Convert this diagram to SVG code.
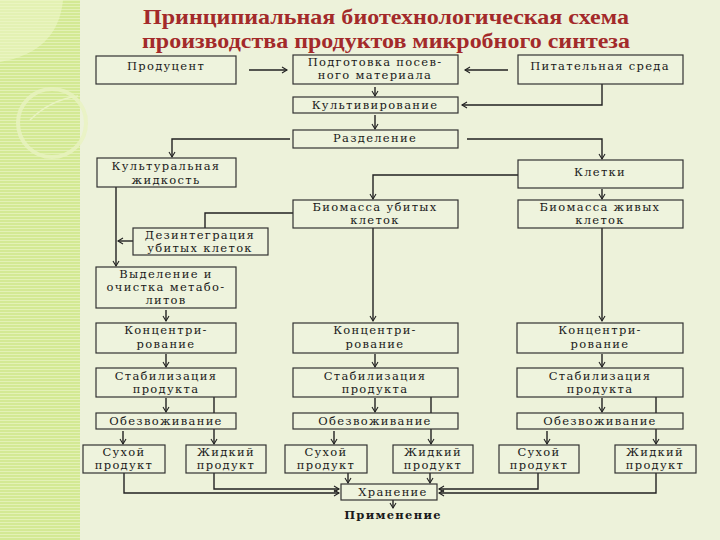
<svg xmlns="http://www.w3.org/2000/svg" width="720" height="540" viewBox="0 0 720 540">
<style>
.b{fill:#eef3dd;stroke:#333;stroke-width:1.2}
.t{font-family:"DejaVu Serif","Liberation Serif",serif;font-size:11.5px;fill:#1a1a1a;text-anchor:middle;letter-spacing:1.3px}
.ttl{font-family:"Liberation Serif","Times New Roman",serif;font-size:21px;font-weight:bold;fill:#a32a2a;text-anchor:middle}
.c path{fill:none;stroke:#222;stroke-width:1.4}
</style>
<defs>
<pattern id="st" width="4" height="3" patternUnits="userSpaceOnUse">
<rect width="4" height="3" fill="#d3e994"/>
<rect width="4" height="1" fill="#e3f1b6"/>
</pattern>
<marker id="a" markerWidth="8" markerHeight="8" refX="6" refY="4" orient="auto" markerUnits="userSpaceOnUse">
<path d="M1,1 L6,4 L1,7" fill="none" stroke="#222" stroke-width="1.1"/>
</marker>
</defs>
<rect width="720" height="540" fill="#edf2da"/>
<rect width="80" height="540" fill="url(#st)"/>
<path d="M0,0 H63 Q58,52 0,62 Z" fill="#eef6c8" opacity="0.6"/>
<circle cx="52" cy="123" r="34" fill="none" stroke="#e8f3c0" stroke-width="4" opacity="0.8"/>
<path d="M30,120 Q50,100 78,96" fill="none" stroke="#e8f3c0" stroke-width="1.5"/>

<text class="ttl" x="386" y="24" textLength="486" lengthAdjust="spacingAndGlyphs">Принципиальная биотехнологическая схема</text>
<text class="ttl" x="386" y="48" textLength="488" lengthAdjust="spacingAndGlyphs">производства продуктов микробного синтеза</text>

<g class="c">
<path d="M249,70 H287" marker-end="url(#a)"/>
<path d="M508,70 H465" marker-end="url(#a)"/>
<path d="M375,87 V96" marker-end="url(#a)"/>
<path d="M602,84 V105 H462" marker-end="url(#a)"/>
<path d="M375,115 V129" marker-end="url(#a)"/>
<path d="M290,139 H172 V157" marker-end="url(#a)"/>
<path d="M467,139 H602 V159" marker-end="url(#a)"/>
<path d="M518,175 H373 V199" marker-end="url(#a)"/>
<path d="M602,189 V199" marker-end="url(#a)"/>
<path d="M116,187 V266" marker-end="url(#a)"/>
<path d="M293,213 H205 V228"/>
<path d="M133,241 H118" marker-end="url(#a)"/>
<path d="M166,310 V321" marker-end="url(#a)"/>
<path d="M373,228 V321" marker-end="url(#a)"/>
<path d="M602,228 V321" marker-end="url(#a)"/>
<path d="M166,354 V367" marker-end="url(#a)"/>
<path d="M375,354 V367" marker-end="url(#a)"/>
<path d="M602,354 V367" marker-end="url(#a)"/>
<path d="M166,398 V412" marker-end="url(#a)"/>
<path d="M375,398 V412" marker-end="url(#a)"/>
<path d="M602,398 V412" marker-end="url(#a)"/>
<path d="M123,431 V444" marker-end="url(#a)"/>
<path d="M334,431 V444" marker-end="url(#a)"/>
<path d="M547,431 V444" marker-end="url(#a)"/>
<path d="M214,397 V444" marker-end="url(#a)"/>
<path d="M431,397 V444" marker-end="url(#a)"/>
<path d="M656,397 V444" marker-end="url(#a)"/>
<path d="M124,473 V493 H339" marker-end="url(#a)"/>
<path d="M214,473 V489 H339" marker-end="url(#a)"/>
<path d="M348,473 V483" marker-end="url(#a)"/>
<path d="M430,473 V483" marker-end="url(#a)"/>
<path d="M538,473 V489 H439" marker-end="url(#a)"/>
<path d="M656,473 V493 H439" marker-end="url(#a)"/>
<path d="M393,500 V508" marker-end="url(#a)"/>
</g>

<g id="producent"><rect class="b" x="96" y="56" width="140" height="28"/><text class="t" x="166" y="70">Продуцент</text></g>
<g id="podgotovka"><rect class="b" x="293" y="55" width="165" height="29"/><text class="t" x="375" y="66">Подготовка посев-</text><text class="t" x="375" y="79">ного материала</text></g>
<g id="sreda"><rect class="b" x="518" y="55" width="165" height="29"/><text class="t" x="600" y="70">Питательная среда</text></g>
<g id="kultivirovanie"><rect class="b" x="293" y="97" width="165" height="16"/><text class="t" x="375" y="109">Культивирование</text></g>
<g id="razdelenie"><rect class="b" x="293" y="130" width="165" height="18"/><text class="t" x="375" y="142">Разделение</text></g>
<g id="kult-zhidkost"><rect class="b" x="97" y="158" width="139" height="29"/><text class="t" x="166" y="170">Культуральная</text><text class="t" x="166" y="184">жидкость</text></g>
<g id="kletki"><rect class="b" x="518" y="160" width="165" height="28"/><text class="t" x="600" y="176">Клетки</text></g>
<g id="biomassa-ubityh"><rect class="b" x="293" y="200" width="165" height="28"/><text class="t" x="375" y="211">Биомасса убитых</text><text class="t" x="375" y="224">клеток</text></g>
<g id="biomassa-zhivyh"><rect class="b" x="518" y="200" width="165" height="28"/><text class="t" x="600" y="211">Биомасса живых</text><text class="t" x="600" y="224">клеток</text></g>
<g id="dezintegraciya"><rect class="b" x="133" y="228" width="135" height="27"/><text class="t" x="200" y="239">Дезинтеграция</text><text class="t" x="200" y="252">убитых клеток</text></g>
<g id="vydelenie"><rect class="b" x="96" y="267" width="140" height="41"/><text class="t" x="166" y="278">Выделение и</text><text class="t" x="166" y="291">очистка метабо-</text><text class="t" x="166" y="304">литов</text></g>

<g id="konc-1"><rect class="b" x="96" y="323" width="140" height="30"/><text class="t" x="166" y="334">Концентри-</text><text class="t" x="166" y="348">рование</text></g>
<g id="konc-2"><rect class="b" x="293" y="323" width="165" height="30"/><text class="t" x="375" y="334">Концентри-</text><text class="t" x="375" y="348">рование</text></g>
<g id="konc-3"><rect class="b" x="517" y="323" width="166" height="30"/><text class="t" x="600" y="334">Концентри-</text><text class="t" x="600" y="348">рование</text></g>

<g id="stab-1"><rect class="b" x="96" y="368" width="140" height="29"/><text class="t" x="166" y="380">Стабилизация</text><text class="t" x="166" y="393">продукта</text></g>
<g id="stab-2"><rect class="b" x="293" y="368" width="165" height="29"/><text class="t" x="375" y="380">Стабилизация</text><text class="t" x="375" y="393">продукта</text></g>
<g id="stab-3"><rect class="b" x="517" y="368" width="166" height="29"/><text class="t" x="600" y="380">Стабилизация</text><text class="t" x="600" y="393">продукта</text></g>

<g id="obezv-1"><rect class="b" x="96" y="413" width="140" height="16"/><text class="t" x="166" y="425">Обезвоживание</text></g>
<g id="obezv-2"><rect class="b" x="293" y="413" width="165" height="16"/><text class="t" x="375" y="425">Обезвоживание</text></g>
<g id="obezv-3"><rect class="b" x="517" y="413" width="166" height="16"/><text class="t" x="600" y="425">Обезвоживание</text></g>

<g id="suhoi-1"><rect class="b" x="83" y="445" width="82" height="28"/><text class="t" x="124" y="456">Сухой</text><text class="t" x="124" y="469">продукт</text></g>
<g id="zhidkii-1"><rect class="b" x="186" y="445" width="80" height="28"/><text class="t" x="226" y="456">Жидкий</text><text class="t" x="226" y="469">продукт</text></g>
<g id="suhoi-2"><rect class="b" x="285" y="445" width="82" height="28"/><text class="t" x="326" y="456">Сухой</text><text class="t" x="326" y="469">продукт</text></g>
<g id="zhidkii-2"><rect class="b" x="393" y="445" width="80" height="28"/><text class="t" x="433" y="456">Жидкий</text><text class="t" x="433" y="469">продукт</text></g>
<g id="suhoi-3"><rect class="b" x="499" y="445" width="80" height="28"/><text class="t" x="539" y="456">Сухой</text><text class="t" x="539" y="469">продукт</text></g>
<g id="zhidkii-3"><rect class="b" x="615" y="445" width="81" height="28"/><text class="t" x="655" y="456">Жидкий</text><text class="t" x="655" y="469">продукт</text></g>

<g id="hranenie"><rect class="b" x="341" y="484" width="96" height="16"/><text class="t" x="393" y="496">Хранение</text></g>
<g id="primenenie"><text class="t" x="393" y="519" style="font-weight:bold">Применение</text></g>
</svg>
